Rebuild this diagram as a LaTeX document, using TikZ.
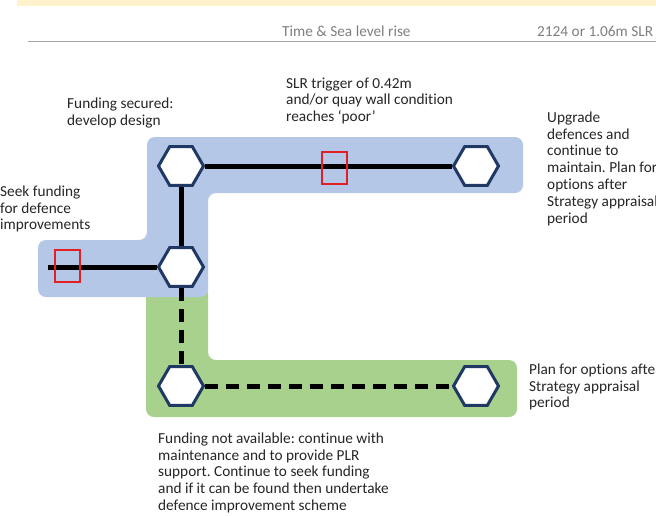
\documentclass[tikz,border=0pt]{standalone}
\usepackage{fontspec}
\setmainfont[Ligatures=NoCommon]{Carlito}
\usetikzlibrary{shapes.geometric}
\definecolor{bandyellow}{HTML}{FFF2CC}
\definecolor{regblue}{HTML}{B4C7E7}
\definecolor{reggreen}{HTML}{A9D18E}
\definecolor{hexnavy}{HTML}{1F3864}
\definecolor{txtdark}{HTML}{262626}
\definecolor{txtgray}{HTML}{7F7F7F}
\definecolor{flagred}{HTML}{E31E24}
\frenchspacing
\tikzset{
  hexnode/.style={regular polygon, regular polygon sides=6, draw=hexnavy, line width=3pt,
    fill=white, minimum size=45pt, inner sep=0pt},
  solidroute/.style={line width=5pt, black},
  dashroute/.style={line width=5pt, black, dash pattern=on 13pt off 8pt},
  trigger/.style={draw=flagred, line width=2pt, minimum width=25pt, minimum height=32pt, inner sep=0pt},
  label/.style={anchor=north west, align=left, inner sep=0pt, text=txtdark,
    font=\fontsize{15.3}{16.9}\selectfont},
  header/.style={anchor=base west, inner sep=0pt, text=txtgray, font=\fontsize{15.3}{17}\selectfont}
}
\begin{document}
\begin{tikzpicture}[x=1pt,y=-1pt]
\useasboundingbox (0,0) rectangle (656,515);
\fill[white] (0,0) rectangle (656,515);
% top band and header
\fill[bandyellow] (17,0) rectangle (656,6);
\draw[txtgray!70, line width=1pt] (28,41) -- (656,41);
\node[header] (h1) at (282,36) {Time \& Sea level rise};
\node[header] (h2) at (537,36) {2124 or 1.06m SLR};
% regions
\fill[reggreen, rounded corners=8pt] (146,285) -- (208,285) -- (208,360) -- (517,360) -- (517,417) -- (146,417) -- cycle;
\fill[regblue, rounded corners=8pt] (147,137) -- (523,137) -- (523,193) -- (208,193) -- (208,297) -- (38,297) -- (38,240) -- (147,240) -- cycle;
% nodes
\node[hexnode] (n1) at (181,166) {};
\node[hexnode] (n2) at (476,166) {};
\node[hexnode] (n3) at (181,267) {};
\node[hexnode] (n4) at (181,386) {};
\node[hexnode] (n5) at (476,386) {};
\coordinate (start) at (48,267);
% routes
\draw[solidroute] (start) -- (n3);
\draw[solidroute] (n3) -- (n1);
\draw[solidroute] (n1) -- (n2);
\draw[dashroute] (n3) -- (n4);
\draw[dashroute] (n4) -- (n5);
% triggers
\node[trigger] (t1) at (67,266) {};
\node[trigger] (t2) at (334,168) {};
% labels
\node[label] (l1) at (67,97.3) {Funding secured:\\develop design};
\node[label] (l2) at (286,77.3) {SLR trigger of 0.42m\\and/or quay wall condition\\reaches ‘poor’};
\node[label] (l3) at (0,185.3) {Seek funding\\for defence\\improvements};
\node[label] (l4) at (547,111.3) {Upgrade\\defences and\\continue to\\maintain. Plan for\\options after\\Strategy appraisal\\period};
\node[label] (l5) at (529,363.3) {Plan for options after\\Strategy appraisal\\period};
\node[label] (l6) at (158,432.3) {Funding not available: continue with\\maintenance and to provide PLR\\support. Continue to seek funding\\and if it can be found then undertake\\defence improvement scheme};
\end{tikzpicture}
\end{document}
